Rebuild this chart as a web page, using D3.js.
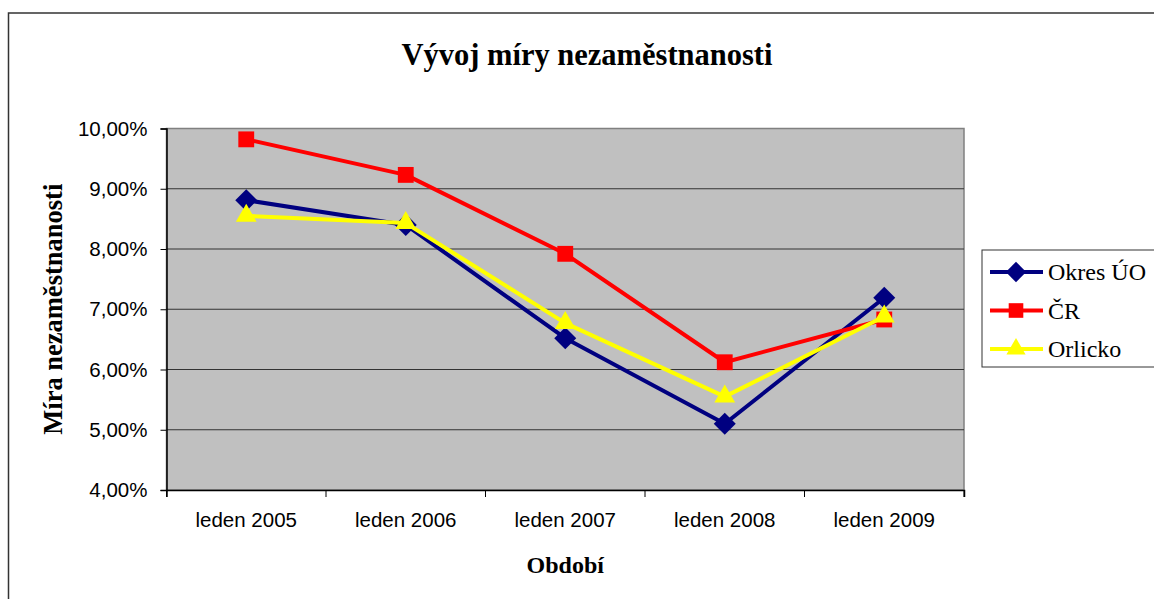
<!DOCTYPE html>
<html>
<head>
<meta charset="utf-8">
<script src="https://cdn.jsdelivr.net/npm/d3@7"></script>
<style>
  body { margin: 0; background: #fff; }
  svg { display: block; }
</style>
</head>
<body>
<script>
// DATA
const categories = ['leden 2005', 'leden 2006', 'leden 2007', 'leden 2008', 'leden 2009']
const okresUO = [8.81, 8.40, 6.52, 5.10, 7.19]
const cr = [9.82, 9.23, 7.92, 6.12, 6.83]
const orlicko = [8.55, 8.43, 6.77, 5.55, 6.88]
const seriesNames = ['Okres ÚO', 'ČR', 'Orlicko']
const yTicks = [4, 5, 6, 7, 8, 9, 10]

const series = [
  { name: seriesNames[0], values: okresUO, color: '#000080', marker: d3.symbolDiamond2, size: 310 },
  { name: seriesNames[1], values: cr, color: '#FF0000', marker: d3.symbolSquare2, size: 320 },
  { name: seriesNames[2], values: orlicko, color: '#FFFF00', marker: d3.symbolTriangle2, size: 310 }
]

// CANVAS
const fullWidth = 1154
const fullHeight = 599
const plot = { left: 166.5, top: 128.5, right: 964, bottom: 490 }

const svg = d3.select('body')
  .append('svg')
  .attr('width', fullWidth)
  .attr('height', fullHeight)

// outer chart frame (right/bottom edges fall outside the window)
svg.append('rect')
  .attr('x', 8.5).attr('y', 13)
  .attr('width', 1180).attr('height', 620)
  .attr('fill', '#fff')
  .attr('stroke', '#333').attr('stroke-width', 1.5)

// SCALES
const x = d3.scaleBand()
  .domain(categories)
  .range([plot.left, plot.right])

const y = d3.scaleLinear()
  .domain([4, 10])
  .range([plot.bottom, plot.top])

const cz = d3.formatLocale({ decimal: ',', thousands: ' ', grouping: [3], currency: ['', ' Kč'] })
const pct = d => cz.format('.2f')(d) + '%'

// PLOT AREA
svg.append('rect')
  .attr('x', plot.left).attr('y', plot.top)
  .attr('width', plot.right - plot.left).attr('height', plot.bottom - plot.top)
  .attr('fill', '#C0C0C0')
  .attr('stroke', '#808080').attr('stroke-width', 1.5)

// gridlines
svg.append('g')
  .selectAll('line')
  .data(yTicks.filter(t => t > 4 && t < 10))
  .join('line')
  .attr('x1', plot.left).attr('x2', plot.right)
  .attr('y1', d => y(d)).attr('y2', d => y(d))
  .attr('stroke', '#333').attr('stroke-width', 1)

// AXES
const yAxis = d3.axisLeft(y)
  .tickValues(yTicks)
  .tickFormat(pct)
  .tickSize(6)
  .tickPadding(13)

const xAxis = d3.axisBottom(x)
  .tickSize(7)
  .tickPadding(15)

const gy = svg.append('g')
  .attr('transform', `translate(${plot.left},0)`)
  .call(yAxis)

const gx = svg.append('g')
  .attr('transform', `translate(0,${plot.bottom})`)
  .call(xAxis)

// category ticks sit on band edges, not centres
gx.selectAll('.tick line').attr('transform', `translate(${-x.bandwidth() / 2},0)`)
gx.append('line')
  .attr('x1', plot.right).attr('x2', plot.right)
  .attr('y1', 0).attr('y2', 7)
  .attr('stroke', '#000')

;[gx, gy].forEach(g => {
  g.select('.domain').attr('stroke', '#000').attr('stroke-width', 1.5)
  g.selectAll('.tick line').attr('stroke', '#000')
  g.selectAll('.tick text')
    .attr('fill', '#000')
    .style('font-family', '"Liberation Sans", Arial, sans-serif')
    .style('font-size', '20.5px')
})

// LINES + MARKERS
const line = d3.line()
  .x((d, i) => x(categories[i]) + x.bandwidth() / 2)
  .y(d => y(d))

series.forEach(s => {
  const g = svg.append('g')
  g.append('path')
    .datum(s.values)
    .attr('d', line)
    .attr('fill', 'none')
    .attr('stroke', s.color)
    .attr('stroke-width', 4)
    .attr('stroke-linejoin', 'round')
  g.selectAll('path.marker')
    .data(s.values)
    .join('path')
    .attr('class', 'marker')
    .attr('d', d3.symbol(s.marker, s.size))
    .attr('transform', (d, i) => `translate(${x(categories[i]) + x.bandwidth() / 2},${y(d)})`)
    .attr('fill', s.color)
})

// TITLES
const serif = '"Liberation Serif", "Times New Roman", serif'

svg.append('text')
  .attr('x', 587).attr('y', 65)
  .attr('text-anchor', 'middle')
  .style('font-family', serif)
  .style('font-weight', 'bold')
  .style('font-size', '30.5px')
  .text('Vývoj míry nezaměstnanosti')

svg.append('text')
  .attr('transform', `translate(62,${(plot.top + plot.bottom) / 2}) rotate(-90)`)
  .attr('text-anchor', 'middle')
  .style('font-family', serif)
  .style('font-weight', 'bold')
  .style('font-size', '26.5px')
  .text('Míra nezaměstnanosti')

svg.append('text')
  .attr('x', (plot.left + plot.right) / 2).attr('y', 573)
  .attr('text-anchor', 'middle')
  .style('font-family', serif)
  .style('font-weight', 'bold')
  .style('font-size', '24px')
  .text('Období')

// LEGEND
const legend = svg.append('g')

legend.append('rect')
  .attr('x', 982).attr('y', 250)
  .attr('width', 200).attr('height', 117)
  .attr('fill', '#fff')
  .attr('stroke', '#333').attr('stroke-width', 1)

const items = legend.selectAll('g.item')
  .data(series)
  .join('g')
  .attr('class', 'item')
  .attr('transform', (d, i) => `translate(0,${272 + i * 38.5})`)

items.append('line')
  .attr('x1', 990).attr('x2', 1043)
  .attr('stroke', d => d.color)
  .attr('stroke-width', 4)

items.append('path')
  .attr('d', d => d3.symbol(d.marker, d.size * 0.85)())
  .attr('transform', 'translate(1016,0)')
  .attr('fill', d => d.color)

items.append('text')
  .attr('x', 1048).attr('y', 8)
  .style('font-family', serif)
  .style('font-size', '24px')
  .text(d => d.name)
</script>
</body>
</html>
